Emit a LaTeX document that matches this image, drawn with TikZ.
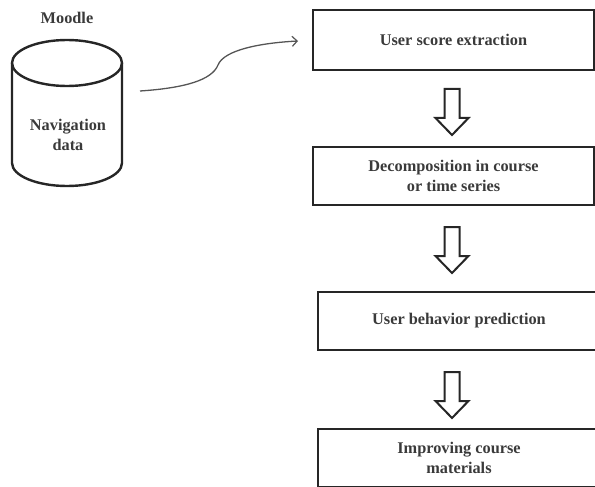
\documentclass[tikz,border=0pt]{standalone}
\usepackage{fontspec}
\setmainfont{Liberation Serif}
\usetikzlibrary{arrows.meta,calc}
\definecolor{txt}{HTML}{3A3A3A}
\definecolor{edge}{HTML}{262626}
\definecolor{curve}{HTML}{555555}
\tikzset{
  box/.style={draw=edge, line width=2.4pt, rectangle, inner sep=0pt,
    align=center, text=txt, font=\fontsize{16.3}{20}\selectfont\bfseries},
  lbl/.style={inner sep=0pt, align=center, text=txt,
    font=\fontsize{16.3}{20}\selectfont\bfseries},
  cyl/.style={draw=edge, line width=2.4pt},
  blk/.style={draw=edge, line width=2pt, line join=miter, fill=white},
  conn/.style={draw=curve, line width=1.3pt,
    -{Straight Barb[length=5pt,width=10pt,line width=1.2pt]}},
  blockarrow/.pic={\draw[blk] (-7.5,0) -- (7.5,0) -- (7.5,29) -- (16.5,29)
    -- (0,46) -- (-16.5,29) -- (-7.5,29) -- cycle;}
}
\begin{document}
\begin{tikzpicture}[x=1pt,y=-1pt]
\useasboundingbox (0,0) rectangle (595,487);
\clip (0,0) rectangle (595,487);
% database cylinder
\draw[cyl] (12,63) -- (12,163) arc[start angle=180,end angle=0,x radius=55,y radius=23] -- (122,63);
\draw[cyl] (67,63) ellipse[x radius=55,y radius=23];
\node[lbl] (moodle) at (67,18) {Moodle};
\node[lbl] (db) at (68,135) {Navigation\\data};
% process boxes
\node[box, minimum width=281pt, minimum height=60pt] (b1) at (453.5,40) {User score extraction};
\node[box, minimum width=281pt, minimum height=58pt] (b2) at (453.5,176) {Decomposition in course\\or time series};
\node[box, minimum width=282pt, minimum height=58pt] (b3) at (459,321) {User behavior prediction};
\node[box, minimum width=282pt, minimum height=58pt] (b4) at (459,458) {Improving course\\materials};
% block arrows
\pic (a1) at (452,89) {blockarrow};
\pic (a2) at (452,227) {blockarrow};
\pic (a3) at (452,372) {blockarrow};
% curved connector
\coordinate (cstart) at (140,91);
\coordinate (cmid) at (218,65);
\coordinate (cend) at (298,41);
\draw[conn] (cstart) .. controls (185,88) and (212,80) .. (cmid)
  .. controls (224,50) and (260,43) .. (cend);
\end{tikzpicture}
\end{document}
